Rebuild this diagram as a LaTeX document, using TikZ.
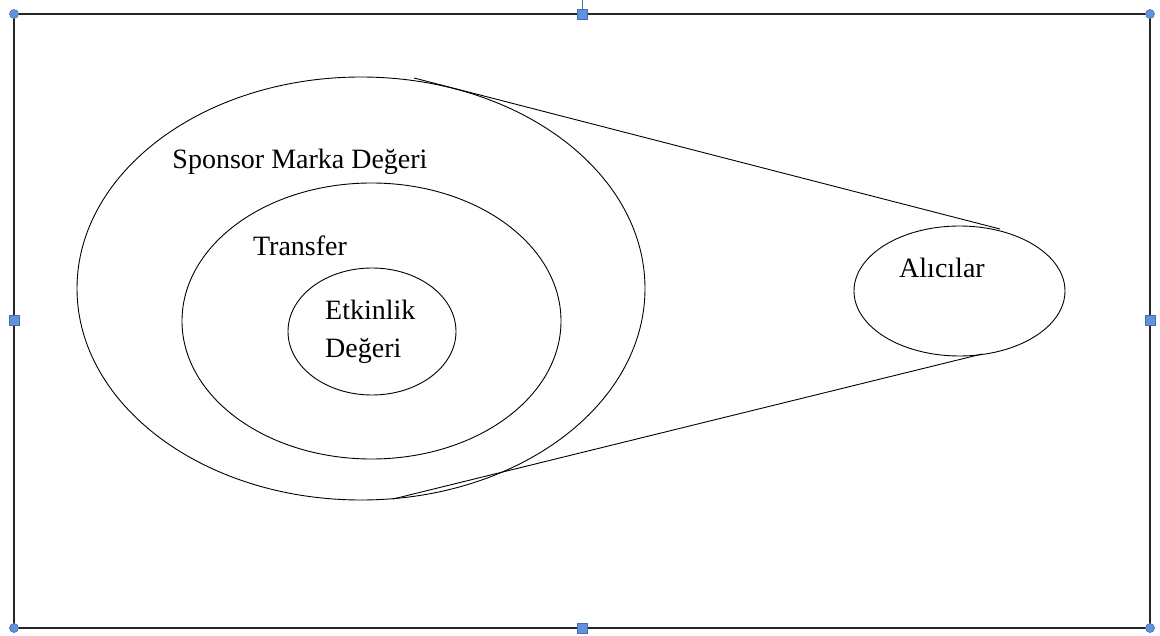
\documentclass[tikz,border=0pt]{standalone}
\usepackage{fontspec}
\setmainfont{Liberation Serif}
\usetikzlibrary{shapes.geometric}
\definecolor{framecol}{gray}{0.15}
\definecolor{handlefill}{RGB}{96,146,222}
\definecolor{handleline}{RGB}{70,110,175}
\tikzset{
  ring/.style={draw,ellipse,inner sep=0pt,line width=0.9pt},
  lab/.style={font=\fontsize{28}{38}\selectfont,inner sep=0pt},
  hsq/.style={draw=handleline,fill=handlefill,line width=0.6pt,rectangle,minimum size=10pt,inner sep=0pt},
  hdot/.style={draw=handleline,fill=handlefill,line width=0.6pt,circle,minimum size=9pt,inner sep=0pt},
}
\begin{document}
\begin{tikzpicture}[x=1pt,y=-1pt]
  \useasboundingbox (0,0) rectangle (1160,636);
  % frame of the picture
  \draw[framecol,line width=1.1pt] (14,14) rectangle (1150,628);
  \draw[handleline,line width=1pt] (582,0) -- (582,10);
  % rings
  \node[ring,minimum width=568pt,minimum height=423pt] (sponsor) at (361,288.5) {};
  \node[ring,minimum width=379pt,minimum height=276pt] (transfer) at (371.5,321) {};
  \node[ring,minimum width=168pt,minimum height=127pt] (etkinlik) at (372,331.5) {};
  \node[ring,minimum width=211pt,minimum height=130pt] (alici) at (959.5,291) {};
  % labels
  \node[lab] (sponsorlab) at (300,162) {Sponsor Marka Değeri};
  \node[lab] (transferlab) at (300,246) {Transfer};
  \node[lab,align=left,anchor=west] (etkinliklab) at (325,332) {Etkinlik\\Değeri};
  \node[lab] (alicilab) at (942,268) {Alıcılar};
  % tangent lines
  \coordinate (t1) at (414,78);
  \coordinate (t2) at (1000,229);
  \coordinate (b1) at (393,499);
  \coordinate (b2) at (982,354);
  \draw[line width=0.9pt] (t1) -- (t2);
  \draw[line width=0.9pt] (b1) -- (b2);
  % handles
  \node[hdot] (h1) at (14,14) {};
  \node[hdot] (h2) at (1150,14) {};
  \node[hdot] (h3) at (14,628) {};
  \node[hdot] (h4) at (1150,628) {};
  \node[hsq] (h5) at (582,14) {};
  \node[hsq] (h6) at (14,320) {};
  \node[hsq] (h7) at (1150,320) {};
  \node[hsq] (h8) at (582,628) {};
\end{tikzpicture}
\end{document}
